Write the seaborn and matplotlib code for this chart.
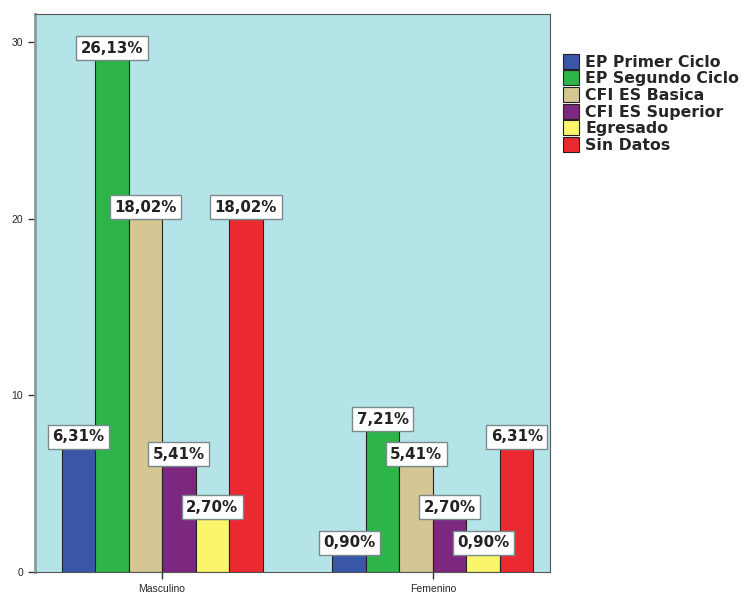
import numpy as np
import pandas as pd
import matplotlib
matplotlib.use("Agg")
import matplotlib.pyplot as plt
import seaborn as sns

# counts (N = 111)
sexo = ["Masculino", "Femenino"]
nivel = ["EP Primer Ciclo", "EP Segundo Ciclo", "CFI ES Basica",
         "CFI ES Superior", "Egresado", "Sin Datos"]
masculino = [7, 29, 20, 6, 3, 20]
femenino = [1, 8, 6, 3, 1, 7]
pct_masc = ["6,31%", "26,13%", "18,02%", "5,41%", "2,70%", "18,02%"]
pct_fem = ["0,90%", "7,21%", "5,41%", "2,70%", "0,90%", "6,31%"]

colores = ["#3a56a8", "#2db54a", "#d4c793", "#7c2780", "#fbf56b", "#ea2a30"]

df = pd.DataFrame({
    "sexo": [sexo[0]] * len(nivel) + [sexo[1]] * len(nivel),
    "nivel": nivel + nivel,
    "recuento": masculino + femenino,
})

sns.set_style("white")
plt.rcParams["font.family"] = ["Liberation Sans", "DejaVu Sans"]

fig = plt.figure(figsize=(7.47, 5.97), dpi=100)
ax = fig.add_axes([35 / 747, 25 / 597, 515 / 747, 558 / 597])
ax.set_facecolor("#b4e4e8")

sns.barplot(data=df, x="sexo", y="recuento", hue="nivel", order=sexo,
            hue_order=nivel, palette=colores, width=0.742, saturation=1,
            edgecolor="#222222", linewidth=0.8, ax=ax)

# value labels in white boxes on top of each bar
for cont, etiquetas in zip(ax.containers, zip(pct_masc, pct_fem)):
    for barra, txt in zip(cont, etiquetas):
        x = barra.get_x() + barra.get_width() / 2
        y = barra.get_height()
        ax.annotate(txt, (x, y), xytext=(0, 3), textcoords="offset points",
                    ha="center", va="bottom", fontsize=10.8,
                    fontweight="bold", family="DejaVu Sans", color="#222222",
                    bbox=dict(boxstyle="square,pad=0.3", fc="white",
                              ec="#7a8a8a", lw=1), zorder=5)

ax.set_xlim(-0.469, 1.432)
ax.set_ylim(0, 31.6)
ax.set_yticks([0, 10, 20, 30])
ax.set_xlabel("")
ax.set_ylabel("")
ax.tick_params(axis="both", direction="out", length=5, width=1,
               labelsize=7.5, color="#333333", left=True, bottom=True)
for lado in ["left", "bottom", "top", "right"]:
    ax.spines[lado].set_color("#555555")
ax.spines["left"].set_linewidth(2)
ax.spines["left"].set_color("#8a9a9a")

ax.legend(loc="upper left", bbox_to_anchor=(1.014, 0.94), frameon=False,
          prop={"family": "DejaVu Sans", "weight": "bold", "size": 11.3},
          handlelength=1.0, handleheight=1.1, handletextpad=0.4,
          labelspacing=0.05, borderaxespad=0)

plt.savefig("out.png", dpi=100)
